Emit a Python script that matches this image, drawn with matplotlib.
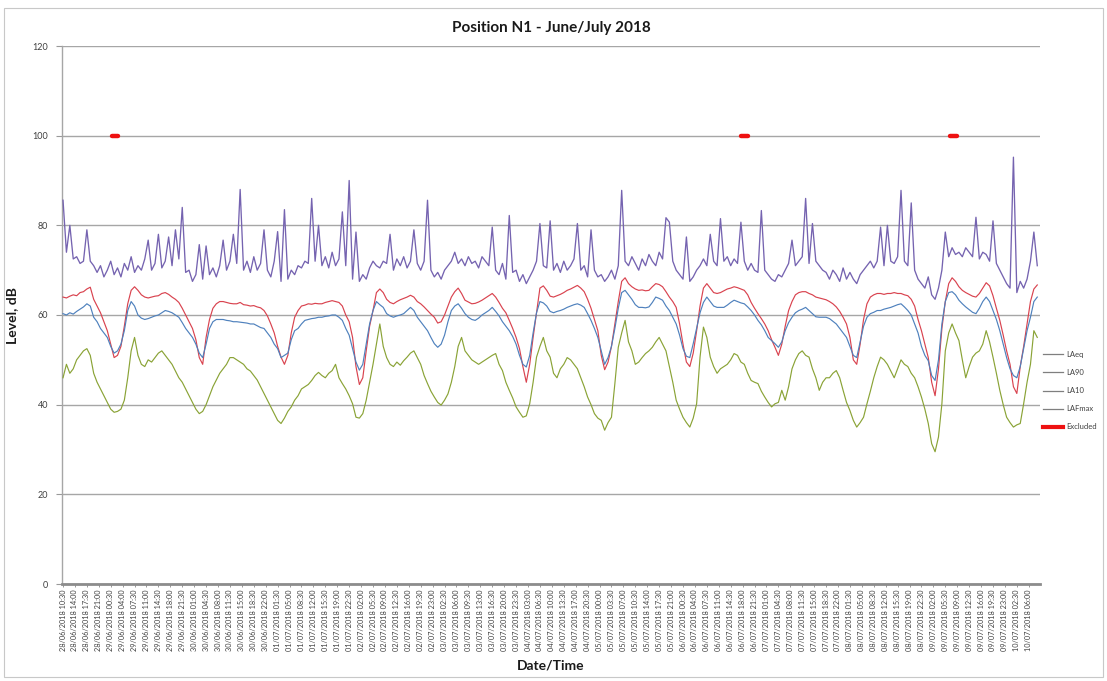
import matplotlib
matplotlib.use("Agg")
import matplotlib.pyplot as plt
from matplotlib.lines import Line2D
from matplotlib.patches import Rectangle
import numpy as np
import pandas as pd

plt.rcParams['font.family'] = ['Lato', 'DejaVu Sans']

# ---------------- data (hourly, starting 28/06/2018 10:30) ----------------
start = '2018-06-28 10:30'

la10 = [
    64, 63.8, 64.2, 64.5, 64.3, 65, 65.2, 65.8, 66.2, 63.5, 62, 60.5, 58.5, 56.5, 53.5, 50.5, 51, 53, 57.5, 62.5, 65.5, 66.3, 65.5, 64.5,
    64, 63.8, 64, 64.2, 64.3, 64.8, 65, 64.6, 64, 63.5, 62.8, 61.5, 60, 58.5, 57, 54.5, 50.5, 49, 55, 59, 61.5, 62.5, 63, 63,
    62.8, 62.6, 62.5, 62.5, 62.8, 62.3, 62.2, 62, 62.1, 61.8, 61.6, 61, 59.8, 58, 56, 53, 50.6, 49, 51, 56, 59.5, 61, 62, 62.2,
    62.5, 62.4, 62.6, 62.5, 62.5, 62.8, 63, 63.2, 63, 62.8, 62, 60, 58.5, 55, 48.5, 44.5, 46, 52, 57.5, 61, 65, 65.8, 65, 63.5,
    62.8, 62.5, 63, 63.4, 63.7, 64, 64.4, 64, 63, 62.5, 61.8, 61, 60.2, 59.5, 58.2, 58.5, 60, 62, 64, 65.2, 66, 64.8, 63.3, 62.9,
    62.5, 62.6, 62.9, 63.3, 63.8, 64.3, 64.8, 64, 62.8, 61.5, 60.5, 58.8, 57, 55, 52.5, 48.5, 45, 49, 55, 60.5, 66, 66.5, 65.5, 64.2,
    64, 64.3, 64.6, 65, 65.5, 65.8, 66.2, 66.6, 66, 65.2, 63.5, 61.5, 59, 56.5, 51, 47.8, 49.5, 53, 58, 63, 67.5, 68.3, 67, 66.3,
    65.8, 65.5, 65.6, 65.4, 65.5, 66.3, 67, 66.8, 66.3, 65.2, 64, 63, 61.7, 58, 53.5, 49.5, 48.5, 51.5, 56.5, 62, 66, 67, 66, 65,
    64.8, 65, 65.4, 65.8, 66, 66.3, 66.1, 65.8, 65.5, 64.5, 62.8, 61.5, 60.3, 59.2, 58, 56.5, 54.5, 52.8, 51, 53.5, 57.5, 61, 63, 64.5,
    65, 65.2, 65.2, 64.8, 64.5, 64, 63.8, 63.6, 63.4, 63, 62.5, 61.8, 60.8, 59.5, 58, 55, 50, 49, 53.5, 59, 62.5, 64, 64.5, 64.8,
    64.8, 64.6, 64.8, 64.8, 65, 64.8, 64.8, 64.5, 64.3, 63.5, 62, 59, 56.5, 53.5, 50.5, 45, 42, 48, 57, 63, 67, 68.3, 67.5, 66.3,
    65.5, 65, 64.6, 64.2, 64, 64.8, 66, 67.2, 66.5, 64.3, 61.5, 58.8, 55.5, 52, 49, 44, 42.5, 48.5, 53, 58, 63, 65.8, 66.7,
]

laeq = [
    60.3, 60, 60.5, 60.2, 60.8, 61.3, 61.8, 62.5, 62, 59.5, 58.5, 57, 56, 55, 53, 51.5, 52, 53.5, 56.5, 61, 63, 62, 60, 59.3,
    59, 59.2, 59.5, 59.8, 60, 60.5, 61, 60.8, 60.5, 60, 59.5, 58.3, 57, 56, 55, 53.5, 51.5, 50.5, 53.5, 57, 58.5, 59, 59, 59,
    58.8, 58.7, 58.5, 58.5, 58.4, 58.3, 58.2, 58, 58, 57.6, 57.2, 57, 56, 55, 53.5, 52.5, 50.5, 51, 51.5, 54.5, 56.5, 57, 58, 58.8,
    59, 59.2, 59.3, 59.5, 59.5, 59.7, 59.8, 60, 60, 59.5, 58.8, 57, 55.5, 52.5, 49.5, 47.7, 49, 53.5, 58, 61, 63, 62.3, 61.7, 60.3,
    59.8, 59.5, 59.8, 60, 60.3, 61, 61.7, 61, 59.5, 58.5, 57.5, 56.5, 55, 53.6, 52.8, 53.5, 55.5, 58.5, 61, 62, 62.5, 61.5, 60.3, 59.5,
    59, 58.8, 59.3, 60, 60.5, 61, 61.7, 60.8, 59.8, 58.5, 57.5, 56.5, 55.2, 53.5, 51, 49, 48.4, 51, 56, 60.5, 63, 62.7, 62, 60.8,
    60.5, 60.8, 61, 61.3, 61.7, 62, 62.3, 62.5, 62.2, 61.7, 60.3, 58.8, 57, 55, 52, 49, 50.5, 53, 57, 61.5, 65, 65.5, 64.5, 63.5,
    62.3, 61.7, 61.7, 61.6, 61.8, 62.8, 64, 63.7, 63.3, 62, 61, 59.5, 58, 55.5, 52.5, 50.8, 50.5, 53.6, 57, 60.5, 62.8, 64, 63, 62,
    61.7, 61.7, 61.7, 62.2, 62.8, 63.3, 63, 62.7, 62.5, 61.8, 61, 60, 58.8, 57.8, 56.5, 55, 54.3, 53.6, 52.8, 54, 56.5, 58.3, 59.5, 60.5,
    61, 61.3, 61.7, 61, 60.3, 59.6, 59.5, 59.5, 59.5, 59.2, 58.6, 58, 57, 56, 55, 53, 51, 50.5, 54, 57.5, 59.5, 60.3, 60.6, 61,
    61, 61.3, 61.5, 61.7, 62, 62.3, 62.5, 61.8, 61, 60, 58, 56, 53, 51, 49.8, 46.5, 45.4, 50, 58, 63, 65, 65.2, 64.5, 63.3,
    62.5, 61.8, 61.2, 60.6, 60.3, 61.5, 63, 64, 63, 61, 59, 56.5, 53.5, 50.5, 48, 46.5, 46, 48.5, 52.5, 56.5, 59.5, 63, 64,
]

la90 = [
    46, 49, 47, 48, 50, 51, 52, 52.5, 51, 47, 45, 43.5, 42, 40.5, 39, 38.3, 38.5, 39, 41, 46, 52, 55, 51, 49,
    48.5, 50, 49.5, 50.5, 51.5, 52, 51, 50, 49, 47.5, 46, 45, 43.5, 42, 40.5, 39, 38, 38.5, 40, 42, 44, 45.5, 47, 48,
    49, 50.5, 50.5, 50, 49.5, 49, 48, 47.5, 46.5, 45.5, 44, 42.5, 41, 39.5, 38, 36.5, 35.8, 37, 38.5, 39.5, 41, 42, 43.5, 44,
    44.5, 45.4, 46.5, 47.2, 46.5, 46, 47, 47.6, 49, 46, 44.7, 43.5, 42, 40.2, 37.2, 37, 38, 41, 45, 49, 53.5, 58, 53, 50.5,
    49, 48.5, 49.5, 48.8, 49.8, 50.6, 51.5, 52, 50.5, 49, 46.5, 44.7, 43, 41.7, 40.5, 39.9, 41, 42.4, 45, 48.5, 53, 55, 52, 51,
    50, 49.5, 49, 49.5, 50, 50.5, 51, 51.4, 49, 47.6, 45, 43.2, 41.5, 39.5, 38.3, 37.2, 37.5, 40.2, 45, 50.6, 53, 55, 52, 50.6,
    47, 46, 48, 49, 50.5, 50, 49, 48, 46, 44, 41.7, 40, 38, 37, 36.5, 34.3, 36, 37.2, 44.7, 52.8, 56, 58.8, 54, 52,
    49, 49.5, 50.5, 51.4, 52, 52.8, 54, 55, 53.5, 52, 48.5, 45, 41, 39, 37.2, 36, 35, 37, 40.2, 50.6, 57.3, 55, 50.6, 48.5,
    47, 48, 48.5, 49, 50, 51.4, 51, 49.5, 49, 47, 45.4, 45, 44.7, 43, 41.7, 40.5, 39.5, 40.2, 40.5, 43.2, 41, 44, 48, 50,
    51.4, 52, 51, 50.6, 48, 46, 43.2, 45, 46, 46, 47, 47.6, 46, 43.2, 40.5, 38.7, 36.5, 35, 36, 37.2, 40.2, 43, 46, 48.5,
    50.6, 50, 49, 47.5, 46, 48, 50, 49, 48.5, 47, 46, 44, 41.7, 39, 35.8, 31.3, 29.5, 32.8, 40.2, 52, 56, 58, 56, 54.3,
    50, 46, 48.5, 50.6, 51.5, 52, 53.5, 56.5, 54, 50.6, 47, 43.2, 40, 37.2, 36, 35, 35.5, 35.8, 40.2, 45, 49, 56.5, 55,
]

lafmax = [
    85.6, 74, 80, 72.5, 73, 71.5, 72, 79, 72, 71, 69.5, 71, 68.5, 70, 72, 69, 70.5, 68.5, 71.5, 70, 73, 69.5, 71, 70,
    72.5, 76.7, 70, 71.5, 78, 70.5, 72, 77.4, 71, 79, 72.5, 84, 69.5, 70, 67.5, 69, 75.7, 68, 75.4, 69, 70.5, 68.5, 71, 76.7,
    70, 72, 78, 71.5, 88, 70, 72, 69.5, 73, 70, 71.5, 79, 70, 68.5, 72, 78.6, 67.5, 83.5, 68, 70, 69, 71, 70.5, 72,
    71.5, 86, 72, 80, 71, 73, 70.5, 74, 71, 72.5, 83, 71, 90, 68, 78.5, 67.5, 69, 68, 70.5, 72, 71, 70.5, 72, 71.5,
    78, 70, 72.5, 71, 73, 70.5, 72, 79, 71.5, 70, 72, 85.6, 70, 68.5, 69.5, 68, 70, 71, 72, 74, 71.5, 72.5, 71, 73,
    71.5, 72, 70.5, 73, 72, 71, 79.6, 70, 69, 71.5, 68, 82.2, 69.5, 70, 67.5, 69, 67, 68.5, 70, 72, 80.4, 71, 70.5, 81,
    70, 71.5, 69.5, 72, 70, 71, 72.5, 80.4, 70, 71, 68.5, 79, 70, 68.5, 69, 67.5, 68.5, 70, 68, 71, 87.8, 72, 71, 73,
    71.5, 70, 72.5, 71, 73.5, 72, 71, 74, 72.5, 81.7, 80.7, 72, 70, 69, 68, 77.4, 67.5, 68.5, 70, 71, 72.5, 71, 78, 72,
    71, 81.5, 72, 73, 71, 72.5, 71.5, 80.7, 72, 70, 71.5, 70, 69.5, 83.3, 70, 69, 68, 67.5, 69, 68.5, 70, 71.5, 76.7, 71,
    72, 73, 86, 71.5, 80.4, 72, 71, 70, 69.5, 68, 70, 69, 67.5, 70.5, 68, 69.5, 68, 67, 69, 70, 71, 72, 70.5, 72,
    79.6, 71, 80, 72, 71.5, 73, 87.8, 72, 71, 85, 70, 68, 67, 66, 68.5, 64.5, 63.5, 66, 70, 78.5, 73, 75, 73.5, 74,
    73, 75, 74, 73, 81.8, 72.5, 74, 73.5, 72, 81, 71.5, 70, 68.5, 67, 66, 95.2, 65, 67.5, 66, 68, 72, 78.5, 71,
]

excluded_start = ['2018-06-29 01:00', '2018-07-06 17:30', '2018-07-09 07:00']
excluded_end = ['2018-06-29 02:30', '2018-07-06 19:30', '2018-07-09 09:00']
excluded_level = 100

tick_end = '2018-07-10 06:00'
tick_step = '210min'

series_names = ['LAeq', 'LA90', 'LA10', 'LAFmax']
title = 'Position N1 - June/July 2018'

# ---------------- figure ----------------
W, H = 1107, 681
fig = plt.figure(figsize=(W / 100, H / 100), dpi=100)
fig.patches.append(Rectangle((4 / W, 4 / H), 1 - 8 / W, 1 - 12 / H, transform=fig.transFigure,
                             fill=False, edgecolor='#c8c8c8', linewidth=0.8))
ax = fig.add_axes([62 / W, 1 - 584 / H, (1040 - 62) / W, (584 - 46) / H])

t0 = pd.Timestamp(start)
hours = lambda ts: (pd.to_datetime(ts) - t0) / pd.Timedelta(hours=1)
times = pd.date_range(start, periods=len(la10), freq='h')
x = np.asarray(hours(times), dtype=float)

c_red = '#d9434f'
c_blue = '#4f81bd'
c_green = '#8aa336'
c_purple = '#7563b0'

ax.plot(x, lafmax, color=c_purple, lw=0.95, zorder=3)
ax.plot(x, la90, color=c_green, lw=0.85, zorder=3)
ax.plot(x, la10, color=c_red, lw=0.85, zorder=3)
ax.plot(x, laeq, color=c_blue, lw=0.85, zorder=3)

for s, e in zip(excluded_start, excluded_end):
    xs = [float(hours(s)), float(hours(e))]
    ax.plot(xs, [excluded_level, excluded_level], color='#ee1111', lw=3.2,
            solid_capstyle='round', zorder=4)

ax.set_ylim(0, 120)
ax.set_yticks(np.arange(0, 121, 20))
ax.set_xlim(-0.3, 286.8)

tick_times = pd.date_range(start, tick_end, freq=tick_step)
ax.set_xticks(np.asarray(hours(tick_times), dtype=float))
ax.set_xticklabels([t.strftime('%d/%m/%Y %H:%M') for t in tick_times],
                   rotation=90, fontsize=5.3, color='#404040')
ax.tick_params(axis='x', length=2, width=0.6, color='#888888', pad=2)
ax.tick_params(axis='y', labelsize=6.5, labelcolor='#404040', length=4, width=0.8,
               color='#999999', pad=6)

ax.grid(axis='y', color='#a6a6a6', lw=1.0, zorder=1)
ax.set_axisbelow(True)
for sp in ['top', 'right']:
    ax.spines[sp].set_visible(False)
ax.spines['left'].set_color('#a6a6a6')
ax.spines['left'].set_linewidth(1.0)
ax.spines['bottom'].set_color('#8c8c8c')
ax.spines['bottom'].set_linewidth(2.0)

ax.set_title(title, fontsize=11, fontweight='bold', pad=10, color='#1a1a1a')
ax.set_ylabel('Level, dB', fontsize=10, fontweight='bold', labelpad=10, color='#1a1a1a')
ax.set_xlabel('Date/Time', fontsize=10, fontweight='bold', labelpad=6, color='#1a1a1a')

handles = [Line2D([], [], color='#7f7f7f', lw=0.9) for _ in series_names]
handles.append(Line2D([], [], color='#ee1111', lw=3))
leg = fig.legend(handles, series_names + ['Excluded'], loc='upper left',
                 bbox_to_anchor=(1040 / W, 1 - 348 / H), frameon=False,
                 fontsize=5.5, handlelength=2.6, handletextpad=0.4, labelspacing=1.45,
                 borderaxespad=0)
for txt in leg.get_texts():
    txt.set_color('#404040')

fig.savefig('out.png', dpi=100)
